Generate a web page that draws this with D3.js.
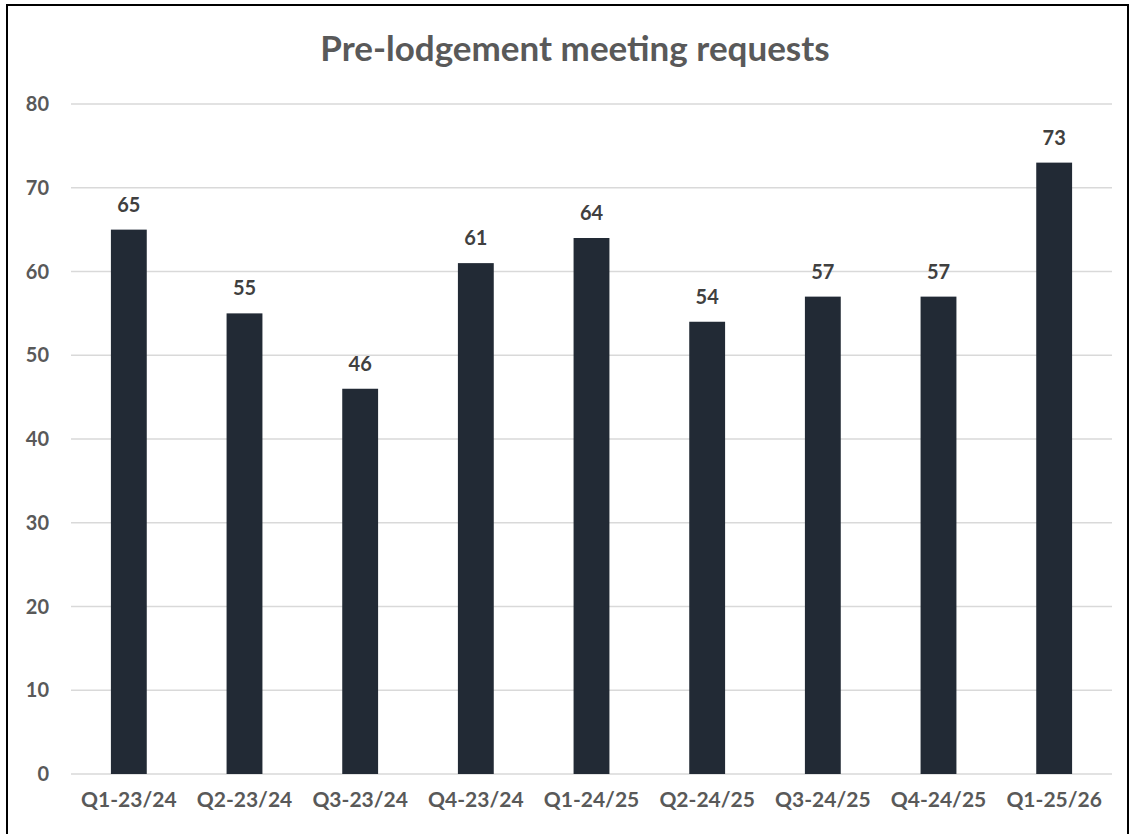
<!DOCTYPE html>
<html>
<head>
  <script src="https://d3js.org/d3.v7.min.js"></script>
</head>
<style>
  body { margin: 0; background: #fff; }
  svg text { font-family: Lato, "Open Sans", sans-serif; font-weight: bold; fill: #595959; }
</style>
<body>
<div id="chart"></div>
<script>
  // quarters and request counts
  var quarters = ["Q1-23/24", "Q2-23/24", "Q3-23/24", "Q4-23/24", "Q1-24/25",
                  "Q2-24/25", "Q3-24/25", "Q4-24/25", "Q1-25/26"];
  var requests = [65, 55, 46, 61, 64, 54, 57, 57, 73];
  var yTicks = [0, 10, 20, 30, 40, 50, 60, 70, 80];

  var width = 1130, height = 834;
  var plotLeft = 71, plotRight = 1112, plotTop = 104, plotBottom = 774;

  var svg = d3.select("#chart").append("svg")
      .attr("width", width)
      .attr("height", height);

  // chart border
  svg.append("rect")
      .attr("x", 7).attr("y", 5)
      .attr("width", 1121).attr("height", 840)
      .attr("fill", "none")
      .attr("stroke", "#000")
      .attr("stroke-width", 2);

  svg.append("text")
      .attr("x", 575).attr("y", 61)
      .attr("text-anchor", "middle")
      .style("font-size", "35px")
      .text("Pre-lodgement meeting requests");

  var x = d3.scaleBand().domain(quarters).range([plotLeft, plotRight]).padding(0);
  var y = d3.scaleLinear().domain([0, 80]).range([plotBottom, plotTop]);
  var barW = x.bandwidth() * 0.31;

  // gridlines
  svg.selectAll("line.grid")
      .data(yTicks)
      .enter().append("line")
      .attr("class", "grid")
      .attr("x1", plotLeft).attr("x2", plotRight)
      .attr("y1", function(d) { return y(d); })
      .attr("y2", function(d) { return y(d); })
      .attr("stroke", "#d9d9d9")
      .attr("stroke-width", 1.5);

  // y tick labels
  svg.selectAll("text.ytick")
      .data(yTicks)
      .enter().append("text")
      .attr("class", "ytick")
      .attr("x", 49)
      .attr("y", function(d) { return y(d); })
      .attr("dy", "0.36em")
      .attr("text-anchor", "end")
      .style("font-size", "20px")
      .text(function(d) { return d; });

  // bars
  svg.selectAll("rect.bar")
      .data(requests)
      .enter().append("rect")
      .attr("class", "bar")
      .attr("x", function(d, i) { return x(quarters[i]) + x.bandwidth() / 2 - barW / 2; })
      .attr("y", function(d) { return y(d); })
      .attr("width", barW)
      .attr("height", function(d) { return y(0) - y(d); })
      .attr("fill", "#222a35");

  // value labels (a bit darker than axis text)
  svg.selectAll("text.val")
      .data(requests)
      .enter().append("text")
      .attr("class", "val")
      .attr("x", function(d, i) { return x(quarters[i]) + x.bandwidth() / 2; })
      .attr("y", function(d) { return y(d) - 18; })
      .attr("text-anchor", "middle")
      .style("font-size", "20px")
      .style("fill", "#404040")
      .text(function(d) { return d; });

  // category labels
  svg.selectAll("text.cat")
      .data(quarters)
      .enter().append("text")
      .attr("class", "cat")
      .attr("x", function(d) { return x(d) + x.bandwidth() / 2; })
      .attr("y", 807)
      .attr("text-anchor", "middle")
      .style("font-size", "21px")
      .text(function(d) { return d; });
</script>
</body>
</html>
